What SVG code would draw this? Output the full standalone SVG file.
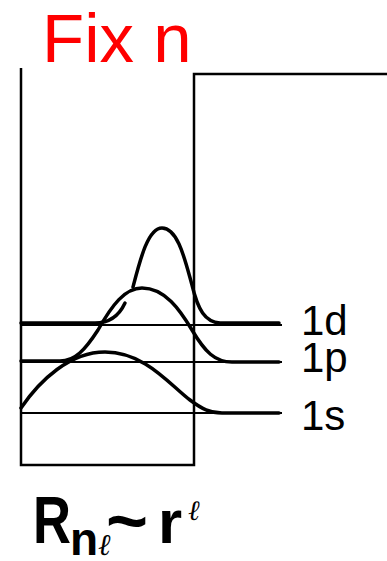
<svg xmlns="http://www.w3.org/2000/svg" width="387" height="561" viewBox="0 0 387 561">
<style>
.t{font-family:"Liberation Sans","DejaVu Sans",sans-serif;}
.s{font-family:"DejaVu Serif",serif;font-style:italic;}
.thin{stroke:#000;stroke-width:1.8;fill:none;}
.wall{stroke:#000;stroke-width:2.5;fill:none;}
.wf{stroke:#000;stroke-width:3.5;fill:none;stroke-linecap:round;}
</style>
<rect width="387" height="561" fill="#fff"/>
<text class="t" x="42" y="62" font-size="69" fill="#ff0000">Fix n</text>
<g id="well">
<path class="wall" d="M21,68 V465 H194 V74 H387"/>
</g>
<g id="levels">
<line class="thin" x1="21" y1="325" x2="282" y2="325"/>
<line class="thin" x1="21" y1="362" x2="282" y2="362"/>
<line class="thin" x1="21" y1="413" x2="282" y2="413"/>
</g>
<g id="wave-1s">
<path class="wf" d="M21,408 C40,380 70,352 105,352 C145,352 170,385 190,400 C202,409 210,413 222,413 H279"/>
</g>
<g id="wave-1p">
<path class="wf" d="M21,361 H60 C75,361 85,350 98,330 C112,305 125,288 142,288 C165,288 180,310 192,330 C205,352 215,362 232,362 H279"/>
</g>
<g id="wave-1d">
<path class="wf" d="M21,323 H95 C108,323 118,318 125,303"/>
<path class="wf" d="M133,287 C140,260 148,228 162,228 C178,228 185,260 192,285 C198,310 205,322 220,323 H279"/>
</g>
<g id="labels">
<text class="t" x="301" y="335" font-size="42">1d</text>
<text class="t" x="301" y="372" font-size="42">1p</text>
<text class="t" x="301" y="430" font-size="42">1s</text>
</g>
<g id="formula">
<text class="t" x="33" y="543" font-size="66" font-weight="bold" textLength="38" lengthAdjust="spacingAndGlyphs">R</text>
<text class="t" x="70" y="555" font-size="46" font-weight="bold">n</text>
<text class="s" x="98" y="555" font-size="30">ℓ</text>
<text class="t" x="106" y="545" font-size="70" font-weight="bold" textLength="42" lengthAdjust="spacingAndGlyphs">~</text>
<text class="t" x="158" y="543" font-size="62" font-weight="bold">r</text>
<text class="s" x="188" y="520" font-size="28">ℓ</text>
</g>
</svg>
